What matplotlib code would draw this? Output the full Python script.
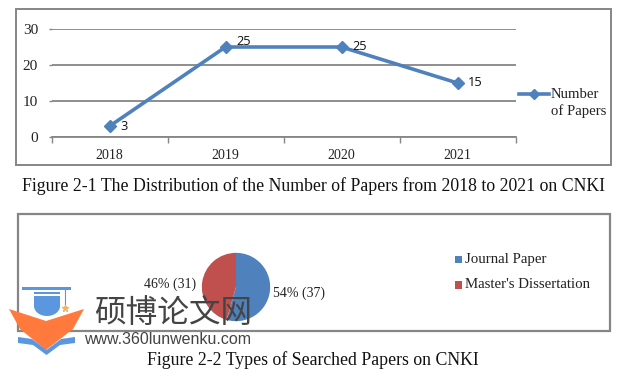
import matplotlib
matplotlib.use("Agg")
import matplotlib.pyplot as plt
from matplotlib.patches import Rectangle, Polygon, Ellipse

W, H = 623, 377
SERIF = "Liberation Serif"
GREY = "#868686"
BLUE = "#4f81bd"
RED = "#c0504d"

years = ["2018", "2019", "2020", "2021"]
papers = [3, 25, 25, 15]
yticks = [0, 10, 20, 30]
line_label = ["Number", "of Papers"]

pie_labels = ["Journal Paper", "Master's Dissertation"]
pie_values = [37, 31]
pie_pcts = [54, 46]

caption1 = "Figure 2-1 The Distribution of the Number of Papers from 2018 to 2021 on CNKI"
caption2 = "Figure 2-2 Types of Searched Papers on CNKI"


def box(x0, y0, x1, y1):
    # pixel box, y measured from the top
    return [x0 / W, 1 - y1 / H, (x1 - x0) / W, (y1 - y0) / H]


fig = plt.figure(figsize=(W / 100, H / 100), dpi=100)

# page layer in pixel coordinates, for frames, captions and the watermark
page = fig.add_axes([0, 0, 1, 1], zorder=0)
page.set_xlim(0, W)
page.set_ylim(H, 0)
page.axis("off")
page.add_patch(Rectangle((16, 9), 595, 156, fc="white", ec=GREY, lw=1.4))
page.add_patch(Rectangle((18, 214), 592, 117, fc="white", ec=GREY, lw=1.6))
page.text(313.5, 186, caption1, family=SERIF, fontsize=12.75, ha="center", va="center", color="#111111")
page.text(313, 360, caption2, family=SERIF, fontsize=12.75, ha="center", va="center", color="#111111")

# line chart
ax = fig.add_axes(box(51.5, 29, 515.5, 137), zorder=1)
ax.patch.set_alpha(0)
ax.plot(range(len(years)), papers, color=BLUE, lw=2.6, marker="D", ms=6.5, clip_on=False)
ax.set_xlim(-0.5, len(years) - 0.5)
ax.set_ylim(0, 30)
ax.set_yticks(yticks)
ax.set_xticks(range(len(years)), years)
ax.set_xticks([i - 0.5 for i in range(len(years) + 1)], minor=True)
ax.grid(axis="y", color=GREY, lw=1.3)
ax.set_axisbelow(True)
for s in ["top", "right", "left"]:
    ax.spines[s].set_visible(False)
ax.spines["bottom"].set_color(GREY)
ax.spines["bottom"].set_linewidth(1.3)
ax.tick_params(axis="x", which="major", length=0, pad=8.5, labelsize=10, labelfontfamily=SERIF, labelcolor="#222222")
ax.tick_params(axis="x", which="minor", length=4, color=GREY, width=1)
ax.tick_params(axis="y", length=2.5, color=GREY, width=1, pad=7.2, labelsize=11, labelfontfamily=SERIF, labelcolor="#222222")
for i, v in enumerate(papers):
    ax.annotate(str(v), (i, v), xytext=(7.5, 0 if i != 1 else 4), textcoords="offset points",
                family="Open Sans", fontsize=9.2, va="center", color="#111111")

# legend of the line chart, marker level with the first text line
page.plot([519, 549], [94, 94], color=BLUE, lw=2.6, zorder=3)
page.plot([534], [94], color=BLUE, marker="D", ms=5.5, zorder=3)
page.text(551, 94, line_label[0], family=SERIF, fontsize=10.6, va="center", color="#222222")
page.text(551, 111, line_label[1], family=SERIF, fontsize=10.6, va="center", color="#222222")

# pie chart
pax = fig.add_axes(box(195, 247, 277, 327), zorder=1)
wedges, _ = pax.pie(pie_values, colors=[BLUE, RED], startangle=90, counterclock=False, radius=1.0,
                    wedgeprops={"lw": 0})
pax.set_xlim(-1.2, 1.2)
pax.set_ylim(-1.17, 1.17)
page.text(273, 293.5, "%d%% (%d)" % (pie_pcts[0], pie_values[0]), family=SERIF, fontsize=10, va="center", color="#222222")
page.text(144, 284, "%d%% (%d)" % (pie_pcts[1], pie_values[1]), family=SERIF, fontsize=10, va="center", color="#222222")
page.add_patch(Rectangle((455, 255.5), 7, 7, fc=BLUE, lw=0))
page.add_patch(Rectangle((455, 281), 7, 8, fc=RED, lw=0))
page.text(465, 259.5, pie_labels[0], family=SERIF, fontsize=10.7, va="center", color="#222222")
page.text(465, 284.5, pie_labels[1], family=SERIF, fontsize=10.7, va="center", color="#222222")

# watermark on top of everything
wm = fig.add_axes([0, 0, 1, 1], zorder=3)
wm.set_xlim(0, W)
wm.set_ylim(H, 0)
wm.axis("off")
wm_blue = "#5b97de"
wm_orange = "#ff7a3c"
wm.add_patch(Polygon([(34, 296), (60, 296), (60, 307), (34, 307)], fc=wm_blue, lw=0))
wm.add_patch(Ellipse((47, 306), 26, 20, fc=wm_blue, lw=0))
wm.add_patch(Rectangle((22, 287), 49, 3, fc=wm_blue, lw=0))
wm.add_patch(Rectangle((34, 292), 26, 2, fc=wm_blue, lw=0))
wm.plot([65, 65], [290, 304], color=wm_blue, lw=0.8)
wm.plot([65], [308], marker="*", color="#f7b267", ms=5)
wm.add_patch(Polygon([(9, 309), (46, 321), (84, 309), (73, 329), (46, 350), (20, 329)], fc=wm_orange, lw=0))
wm.add_patch(Polygon([(18, 337), (32, 339), (46.5, 350), (61, 339), (75, 337), (75, 343), (60, 345), (46.5, 355),
                      (33, 345), (18, 343)], fc=wm_blue, lw=0))
wm.text(173, 313, "硕博论文网", family="Noto Sans CJK SC", fontsize=22.8, ha="center", va="center", color="#444444")
wm.text(168, 340, "www.360lunwenku.com", family="Liberation Sans", fontsize=11.5, ha="center", va="center", color="#444444")

fig.savefig("out.png", dpi=100)
